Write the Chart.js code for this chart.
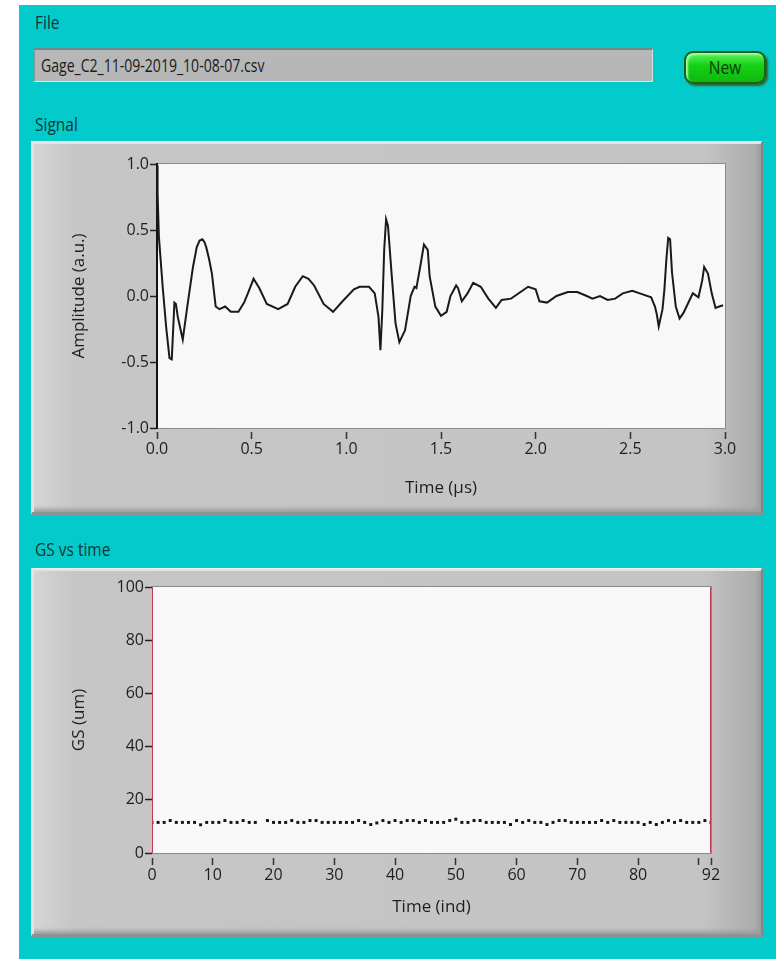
<!DOCTYPE html>
<html>
<head>
<meta charset="utf-8">
<script src="https://cdn.jsdelivr.net/npm/chart.js@4.4.0/dist/chart.umd.min.js"></script>
<style>
  html, body { margin:0; padding:0; background:#ffffff; }
  body { width:776px; height:959px; position:relative; overflow:hidden; font-family:"Open Sans","Noto Sans",sans-serif; }
  #bg { position:absolute; left:19px; top:5px; width:757px; height:954px; background:#04cbcb; }
  .lbl { position:absolute; font-size:18px; color:#123636; transform-origin:left center; transform:scaleX(0.86); white-space:nowrap; }
  #filebox { position:absolute; left:33px; top:48px; width:620px; height:34px; background:#b7b7b7;
             border-top:2px solid #6c8a8a; border-left:2px solid #7a9a9a; border-bottom:1px solid #d8e8e8; border-right:1px solid #d0e0e0; box-sizing:border-box; }
  #filebox span { position:absolute; left:6px; top:3px; font-size:18px; color:#1a1a1a; transform-origin:left center; transform:scaleX(0.78); white-space:nowrap; }
  #newbtn { position:absolute; left:684px; top:51px; width:82px; height:33px; box-sizing:border-box; border-radius:9px;
            background:linear-gradient(#5cf25c,#14d014 45%,#0fb80f); border:2px solid #1d5e1d; box-shadow: inset 2px 2px 2px #9dff9d, 2px 2px 2px #2a6a2a; }
  #newbtn span { position:absolute; left:0; right:0; top:2px; text-align:center; font-size:18px; color:#0c3a0c; transform:scaleX(0.86); }
  .panel { position:absolute; left:31px; width:732px; box-sizing:border-box;
           background:linear-gradient(to right,#d6d6d6,#c6c6c6 6%,#c4c4c4 92%,#aaaaaa);
           border-top:1px solid #e8f2f2; border-left:1px solid #e0eaea; border-right:2px solid #7e8a8a; border-bottom:3px solid #8a9494;
           box-shadow: inset 2px 2px 0 #e4e4e4, inset -3px -3px 4px #9c9c9c; }
  .panel canvas { position:absolute; left:-1px; top:-1px; }
</style>
</head>
<body>
<div id="bg"></div>
<div class="lbl" style="left:35px;top:10px;">File</div>
<div id="filebox"><span>Gage_C2_11-09-2019_10-08-07.csv</span></div>
<div id="newbtn"><span>New</span></div>
<div class="lbl" style="left:35px;top:112px;">Signal</div>
<div class="panel" style="top:141px;height:374px;"><canvas id="c1" width="731" height="374"></canvas></div>
<div class="lbl" style="left:35px;top:537px;">GS vs time</div>
<div class="panel" style="top:568px;height:369px;"><canvas id="c2" width="731" height="369"></canvas></div>

<script>
// ---- Signal (time in µs, amplitude in a.u.) ----
const sigT = [0.000,0.003,0.010,0.030,0.048,0.066,0.078,0.092,0.100,0.110,0.136,0.160,0.190,0.210,0.225,0.240,0.250,0.260,0.275,0.290,0.310,0.330,0.360,0.390,0.430,0.460,0.480,0.510,0.540,0.580,0.640,0.690,0.730,0.770,0.800,0.830,0.880,0.930,0.980,1.040,1.070,1.120,1.150,1.170,1.180,1.190,1.200,1.210,1.220,1.240,1.260,1.280,1.310,1.340,1.360,1.370,1.390,1.410,1.430,1.440,1.470,1.500,1.530,1.550,1.580,1.590,1.610,1.640,1.670,1.710,1.750,1.790,1.820,1.870,1.920,1.960,2.000,2.020,2.060,2.110,2.170,2.220,2.270,2.300,2.340,2.380,2.420,2.460,2.510,2.550,2.610,2.630,2.640,2.650,2.670,2.680,2.690,2.700,2.710,2.720,2.740,2.760,2.780,2.810,2.830,2.860,2.880,2.890,2.910,2.930,2.950,2.970,2.990];
const sigA = [0.99,0.78,0.45,0.07,-0.23,-0.47,-0.48,-0.05,-0.06,-0.16,-0.33,-0.08,0.22,0.37,0.42,0.43,0.41,0.37,0.28,0.17,-0.08,-0.10,-0.08,-0.12,-0.12,-0.05,0.02,0.13,0.06,-0.06,-0.10,-0.06,0.07,0.15,0.13,0.08,-0.06,-0.12,-0.04,0.05,0.07,0.07,0.02,-0.16,-0.41,-0.11,0.35,0.58,0.53,0.15,-0.21,-0.35,-0.26,0.00,0.07,0.06,0.22,0.39,0.35,0.15,-0.08,-0.15,-0.12,0.00,0.08,0.06,-0.04,0.02,0.10,0.07,-0.02,-0.09,-0.03,-0.02,0.03,0.07,0.05,-0.04,-0.05,0.00,0.03,0.03,0.00,-0.02,0.00,-0.03,-0.02,0.02,0.04,0.02,-0.01,-0.08,-0.14,-0.23,-0.10,0.05,0.27,0.44,0.43,0.18,-0.08,-0.17,-0.13,-0.04,0.02,-0.01,0.12,0.22,0.17,0.02,-0.09,-0.08,-0.07];
const sigXTicks = { min:0, max:3, step:0.5 };
const sigYTicks = { min:-1, max:1, step:0.5 };

// ---- GS vs time (index, GS in um) ----
const gsValues = [11.5,11.5,11.5,12.2,11.5,11.5,11.5,11.5,10.6,11.5,11.5,11.5,12.2,11.5,11.5,12.2,11.5,11.5,null,12.2,11.5,11.5,11.5,12.2,11.5,11.5,12.2,12.2,11.5,11.5,11.5,11.5,11.5,11.5,12.2,11.5,10.7,11.3,12.2,11.5,12.2,11.5,12.2,12.2,11.5,12.2,11.5,11.5,11.5,12.2,12.7,11.5,11.5,12.2,12.2,11.5,11.5,11.5,11.5,10.7,12.2,11.5,12.2,11.5,11.5,10.7,11.5,12.2,12.2,11.5,11.5,11.5,11.5,11.5,12.2,11.5,12.2,11.5,11.5,11.5,11.5,10.7,11.5,10.7,11.5,12.2,11.5,12.2,11.5,11.5,11.5,12.2,11.5];
const gsXTickValues = [0,10,20,30,40,50,60,70,80,90,92];
const gsXHidden = [90];
const gsYTicks = { min:0, max:100, step:20 };
const cursorPositions = [0,92];

const tickFont = { family:"'Open Sans','Noto Sans',sans-serif", size:16 };
const titleFont = { family:"'Open Sans','Noto Sans',sans-serif", size:17 };
const txtColor = '#1e1e1e';

const plotBgFirst = {
  id:'plotBgFirst',
  beforeDraw(chart) {
    const {ctx, chartArea:a} = chart;
    ctx.save();
    ctx.fillStyle = '#f8f8f8';
    ctx.fillRect(a.left, a.top, a.right-a.left, a.bottom-a.top);
    ctx.strokeStyle = '#8a8a8a';
    ctx.lineWidth = 1;
    ctx.beginPath();
    ctx.moveTo(a.left, a.top-0.5); ctx.lineTo(a.right+0.5, a.top-0.5); ctx.lineTo(a.right+0.5, a.bottom+0.5); ctx.lineTo(a.left, a.bottom+0.5);
    ctx.stroke();
    ctx.restore();
  }
};

new Chart(document.getElementById('c1'), {
  type:'scatter',
  data:{ datasets:[{
    data: sigT.map((t,i)=>({x:t, y:sigA[i]})),
    showLine:true, borderColor:'#1a1a1a', borderWidth:2, pointRadius:0, tension:0
  }]},
  options:{
    responsive:false, animation:false,
    layout:{ padding:{ top:23, right:37, left:0, bottom:0 } },
    plugins:{ legend:{display:false}, tooltip:{enabled:false} },
    scales:{
      x:{ type:'linear', min:sigXTicks.min, max:sigXTicks.max,
          ticks:{ stepSize:sigXTicks.step, callback:v=>Number(v).toFixed(1), font:tickFont, color:txtColor, padding:1, maxRotation:0 },
          grid:{ drawOnChartArea:false, drawTicks:true, tickLength:11, tickColor:'#333', tickWidth:1.5, tickBorderDash:[0,4,7] },
          border:{ display:false },
          title:{ display:true, text:'Time (µs)', font:titleFont, color:txtColor, padding:{top:0,bottom:17} },
          afterFit:s=>{ s.height = 87; } },
      y:{ min:sigYTicks.min, max:sigYTicks.max,
          ticks:{ stepSize:sigYTicks.step, callback:v=>Number(v).toFixed(1), font:tickFont, color:txtColor, padding:1 },
          grid:{ drawOnChartArea:false, tickLength:7, tickColor:'#222', tickWidth:1.5 },
          border:{ display:true, color:'#111', width:2 },
          title:{ display:true, text:'Amplitude (a.u.)', font:titleFont, color:txtColor, padding:{top:38,bottom:0} },
          afterFit:s=>{ s.width = 126; } }
    }
  },
  plugins:[plotBgFirst]
});

const gsPoints = gsValues.map((v,i)=>({x:i, y:v}));
new Chart(document.getElementById('c2'), {
  type:'scatter',
  data:{ datasets:[
    ...cursorPositions.map(p=>({
      data:[{x:p,y:gsYTicks.min},{x:p,y:gsYTicks.max}],
      showLine:true, borderColor:'#c43a4a', borderWidth:2, pointRadius:0
    })),
    { data:gsPoints, showLine:false, pointStyle:'rect', pointRadius:2.1, pointBackgroundColor:'#141414', pointBorderWidth:0 }
  ]},
  options:{
    responsive:false, animation:false,
    layout:{ padding:{ top:19, right:51, left:0, bottom:0 } },
    plugins:{ legend:{display:false}, tooltip:{enabled:false} },
    scales:{
      x:{ type:'linear', min:0, max:92,
          afterBuildTicks:s=>{ s.ticks = gsXTickValues.map(v=>({value:v})); },
          ticks:{ callback:v=>gsXHidden.includes(v)?'':String(v), font:tickFont, color:txtColor, padding:1, maxRotation:0, autoSkip:false },
          grid:{ drawOnChartArea:false, drawTicks:true, tickLength:12, tickColor:'#333', tickWidth:1.5, tickBorderDash:[0,5,7] },
          border:{ display:false },
          title:{ display:true, text:'Time (ind)', font:titleFont, color:txtColor, padding:{top:0,bottom:20} },
          afterFit:s=>{ s.height = 84; } },
      y:{ min:gsYTicks.min, max:gsYTicks.max,
          ticks:{ stepSize:gsYTicks.step, font:tickFont, color:txtColor, padding:1 },
          grid:{ drawOnChartArea:false, tickLength:7, tickColor:'#222', tickWidth:1.5 },
          border:{ display:false },
          title:{ display:true, text:'GS (um)', font:titleFont, color:txtColor, padding:{top:38,bottom:0} },
          afterFit:s=>{ s.width = 121; } }
    }
  },
  plugins:[plotBgFirst]
});
</script>
</body>
</html>
